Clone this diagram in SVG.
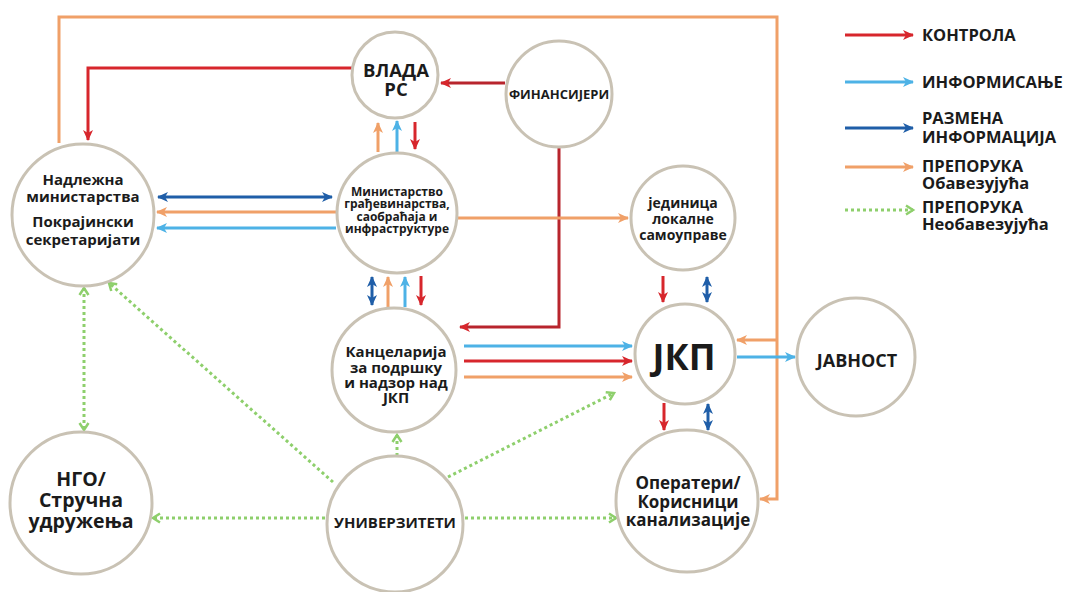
<svg xmlns="http://www.w3.org/2000/svg" width="1068" height="592" viewBox="0 0 1068 592">
<style>
.n circle{fill:#fff;stroke:#c9c2b4;stroke-width:3}
text{font-family:"Open Sans","Liberation Sans",sans-serif;font-weight:700;fill:#1b1b1b}
.n text{text-anchor:middle}
.lg text{font-size:16.5px}
.c{fill:none;stroke-width:3}
.r{stroke:#d7262c}
.dr{stroke:#b8252d}
.b{stroke:#4db2e6}
.db{stroke:#1f5ea8}
.o{stroke:#f0a068}
.g{stroke:#8ecf6c;stroke-dasharray:3 3;stroke-width:3}
</style>
<defs>
<marker id="mr" markerUnits="userSpaceOnUse" viewBox="0 0 12 12" markerWidth="12" markerHeight="12" refX="10" refY="6" orient="auto-start-reverse"><path d="M0,1 L11,6 L0,11 L3,6 Z" fill="#d7262c"/></marker>
<marker id="mb" markerUnits="userSpaceOnUse" viewBox="0 0 12 12" markerWidth="12" markerHeight="12" refX="10" refY="6" orient="auto-start-reverse"><path d="M0,1 L11,6 L0,11 L3,6 Z" fill="#4db2e6"/></marker>
<marker id="mdb" markerUnits="userSpaceOnUse" viewBox="0 0 12 12" markerWidth="12" markerHeight="12" refX="10" refY="6" orient="auto-start-reverse"><path d="M0,1 L11,6 L0,11 L3,6 Z" fill="#1f5ea8"/></marker>
<marker id="mo" markerUnits="userSpaceOnUse" viewBox="0 0 12 12" markerWidth="12" markerHeight="12" refX="10" refY="6" orient="auto-start-reverse"><path d="M0,1 L11,6 L0,11 L3,6 Z" fill="#f0a068"/></marker>
<marker id="mg" markerUnits="userSpaceOnUse" viewBox="0 0 12 12" markerWidth="12" markerHeight="12" refX="9" refY="6" orient="auto-start-reverse"><path d="M2,1.5 L9,6 L2,10.5" fill="none" stroke="#8ecf6c" stroke-width="2.5"/></marker>
</defs>

<g id="connectors">
<polyline class="c o" points="59,143 59,17 777,17 777,499 760,499" marker-end="url(#mo)"/>
<line class="c o" x1="777" y1="340" x2="737" y2="340" marker-end="url(#mo)"/>
<polyline class="c r" points="352,68 88,68 88,140" marker-end="url(#mr)"/>
<line class="c dr" x1="505" y1="83" x2="441" y2="83" marker-end="url(#mr)"/>
<polyline class="c dr" points="559,148 559,327 460,327" marker-end="url(#mr)"/>
<line class="c o" x1="378" y1="152" x2="378" y2="123" marker-end="url(#mo)"/>
<line class="c b" x1="397" y1="152" x2="397" y2="121" marker-end="url(#mb)"/>
<line class="c r" x1="415" y1="122" x2="415" y2="149" marker-end="url(#mr)"/>
<line class="c db" x1="158" y1="197" x2="332" y2="197" marker-start="url(#mdb)" marker-end="url(#mdb)"/>
<line class="c o" x1="336" y1="212" x2="157" y2="212" marker-end="url(#mo)"/>
<line class="c b" x1="336" y1="228" x2="157" y2="228" marker-end="url(#mb)"/>
<line class="c o" x1="458" y1="218" x2="628" y2="218" marker-end="url(#mo)"/>
<line class="c db" x1="372" y1="277" x2="372" y2="305" marker-start="url(#mdb)" marker-end="url(#mdb)"/>
<line class="c o" x1="388" y1="307" x2="388" y2="277" marker-end="url(#mo)"/>
<line class="c b" x1="405" y1="307" x2="405" y2="277" marker-end="url(#mb)"/>
<line class="c r" x1="421" y1="276" x2="421" y2="305" marker-end="url(#mr)"/>
<line class="c b" x1="464" y1="346" x2="632" y2="346" marker-end="url(#mb)"/>
<line class="c r" x1="464" y1="361" x2="632" y2="361" marker-end="url(#mr)"/>
<line class="c o" x1="464" y1="377" x2="632" y2="377" marker-end="url(#mo)"/>
<line class="c r" x1="663" y1="276" x2="663" y2="302" marker-end="url(#mr)"/>
<line class="c db" x1="707" y1="277" x2="707" y2="302" marker-start="url(#mdb)" marker-end="url(#mdb)"/>
<line class="c r" x1="664" y1="403" x2="664" y2="430" marker-end="url(#mr)"/>
<line class="c db" x1="708" y1="404" x2="708" y2="430" marker-start="url(#mdb)" marker-end="url(#mdb)"/>
<line class="c b" x1="737" y1="357" x2="795" y2="357" marker-end="url(#mb)"/>
<line class="g" x1="84" y1="288" x2="84" y2="430" marker-start="url(#mg)" marker-end="url(#mg)"/>
<line class="g" x1="333" y1="482" x2="109" y2="283" marker-end="url(#mg)"/>
<line class="g" x1="397" y1="456" x2="397" y2="435" marker-end="url(#mg)"/>
<line class="g" x1="448" y1="477" x2="614" y2="393" marker-end="url(#mg)"/>
<line class="g" x1="325" y1="518" x2="153" y2="518" marker-end="url(#mg)"/>
<line class="g" x1="465" y1="518" x2="616" y2="518" marker-end="url(#mg)"/>
</g>

<g id="vlada" class="n"><circle cx="395" cy="75" r="43"/><text font-size="18.5"><tspan x="396" y="77">ВЛАДА</tspan><tspan x="396" y="96">РС</tspan></text></g>
<g id="finansijeri" class="n"><circle cx="559" cy="94" r="53"/><text font-size="13" x="559" y="99">ФИНАНСИЈЕРИ</text></g>
<g id="nadlezna" class="n"><circle cx="83" cy="215" r="71"/><text font-size="15"><tspan x="83" y="185">Надлежна</tspan><tspan x="83" y="202">министарства</tspan><tspan x="83" y="227">Покрајински</tspan><tspan x="83" y="245">секретаријати</tspan></text></g>
<g id="ministarstvo" class="n"><circle cx="397" cy="213" r="60"/><text font-size="12"><tspan x="397" y="196">Министарство</tspan><tspan x="397" y="208">грађевинарства,</tspan><tspan x="397" y="220.5">саобраћаја и</tspan><tspan x="397" y="233">инфраструктуре</tspan></text></g>
<g id="jedinica" class="n"><circle cx="683" cy="218" r="52"/><text font-size="14"><tspan x="683" y="208">јединица</tspan><tspan x="683" y="224">локалне</tspan><tspan x="683" y="240">самоуправе</tspan></text></g>
<g id="kancelarija" class="n"><circle cx="394" cy="370" r="62"/><text font-size="15"><tspan x="396" y="357">Канцеларија</tspan><tspan x="396" y="373">за подршку</tspan><tspan x="396" y="388">и надзор над</tspan><tspan x="396" y="403">ЈКП</tspan></text></g>
<g id="jkp" class="n"><circle cx="685" cy="354" r="50"/><text font-size="36" x="684" y="370">ЈКП</text></g>
<g id="javnost" class="n"><circle cx="856" cy="357" r="59"/><text font-size="18" x="857" y="367">ЈАВНОСТ</text></g>
<g id="operateri" class="n"><circle cx="687" cy="501" r="71"/><text font-size="17"><tspan x="688" y="489">Оператери/</tspan><tspan x="688" y="508">Корисници</tspan><tspan x="688" y="526">канализације</tspan></text></g>
<g id="ngo" class="n"><circle cx="81" cy="503" r="71"/><text font-size="19.5"><tspan x="81" y="486">НГО/</tspan><tspan x="81" y="507">Стручна</tspan><tspan x="81" y="528">удружења</tspan></text></g>
<g id="univerziteti" class="n"><circle cx="395" cy="524" r="68"/><text font-size="15" x="395" y="528">УНИВЕРЗИТЕТИ</text></g>

<g id="legend" class="lg">
<line class="c r" x1="845" y1="35" x2="913" y2="35" stroke-width="4" marker-end="url(#mr)"/>
<text x="922" y="41">КОНТРОЛА</text>
<line class="c b" x1="845" y1="82" x2="913" y2="82" stroke-width="4" marker-end="url(#mb)"/>
<text x="922" y="88">ИНФОРМИСАЊЕ</text>
<line class="c db" x1="845" y1="128" x2="913" y2="128" stroke-width="4" marker-end="url(#mdb)"/>
<text x="922" y="124">РАЗМЕНА</text><text x="922" y="143">ИНФОРМАЦИЈА</text>
<line class="c o" x1="845" y1="167" x2="913" y2="167" stroke-width="4" marker-end="url(#mo)"/>
<text x="922" y="172">ПРЕПОРУКА</text><text x="922" y="189">Обавезујућа</text>
<line class="g" x1="845" y1="210" x2="913" y2="210" marker-end="url(#mg)"/>
<text x="922" y="213">ПРЕПОРУКА</text><text x="922" y="230">Необавезујућа</text>
</g>
</svg>
